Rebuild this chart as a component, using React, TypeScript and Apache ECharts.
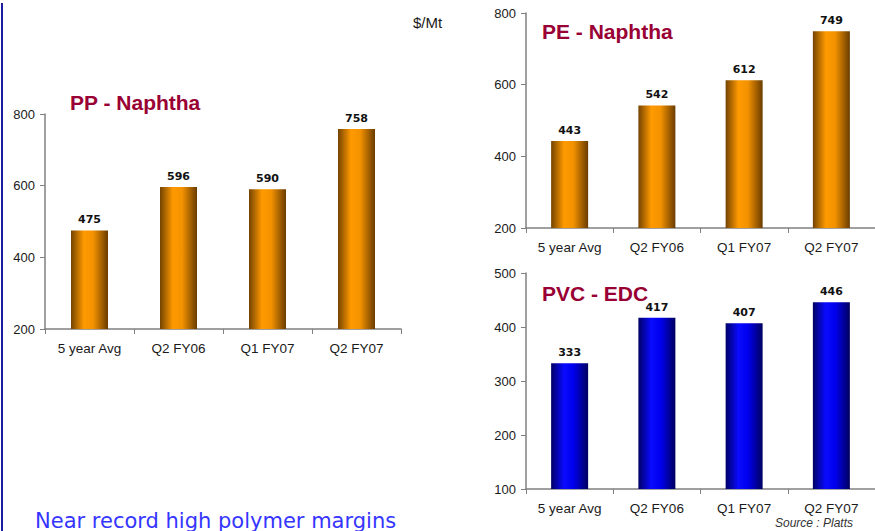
import React, { useEffect, useRef } from "react";
import * as echarts from "echarts";

// Periods shown on every panel
const categories = ["5 year Avg", "Q2 FY06", "Q1 FY07", "Q2 FY07"];

// Margins in $/Mt
const ppNaphtha = [475, 596, 590, 758];
const peNaphtha = [443, 542, 612, 749];
const pvcEdc = [333, 417, 407, 446];

// Value-axis ranges
const ppAxis = { min: 200, max: 800, interval: 200 };
const peAxis = { min: 200, max: 800, interval: 200 };
const pvcAxis = { min: 100, max: 500, interval: 100 };

const panelTitles = ["PP - Naphtha", "PE - Naphtha", "PVC - EDC"];
const unitLabel = "$/Mt";
const sourceNote = "Source : Platts";
const headline = "Near record high polymer margins";

const orangeFill = new echarts.graphic.LinearGradient(0, 0, 1, 0, [
  { offset: 0, color: "#744300" },
  { offset: 0.35, color: "#ff9a00" },
  { offset: 0.6, color: "#f39200" },
  { offset: 1, color: "#6a3c00" },
]);

const blueFill = new echarts.graphic.LinearGradient(0, 0, 1, 0, [
  { offset: 0, color: "#000066" },
  { offset: 0.35, color: "#0a0aff" },
  { offset: 0.6, color: "#0000ee" },
  { offset: 1, color: "#000060" },
]);

const axisFont = { fontFamily: "Liberation Sans, Arial, sans-serif", fontSize: 13, color: "#1a1a1a" };

function xAxisFor(gridIndex: number) {
  return {
    type: "category" as const,
    gridIndex,
    data: categories,
    axisLine: { lineStyle: { color: "#808080", width: 1.5 } },
    axisTick: { show: true, length: 5, alignWithLabel: false, lineStyle: { color: "#808080" } },
    axisLabel: { ...axisFont, fontSize: 13.5, margin: 12 },
  };
}

function yAxisFor(gridIndex: number, range: { min: number; max: number; interval: number }) {
  return {
    type: "value" as const,
    gridIndex,
    min: range.min,
    max: range.max,
    interval: range.interval,
    axisLine: { show: true, lineStyle: { color: "#808080", width: 1.5 } },
    axisTick: { show: true, length: 5, lineStyle: { color: "#808080" } },
    axisLabel: { ...axisFont, margin: 10 },
    splitLine: { show: false },
  };
}

function barSeries(index: number, data: number[], fill: any) {
  return {
    type: "bar" as const,
    xAxisIndex: index,
    yAxisIndex: index,
    data,
    barWidth: 37,
    itemStyle: { color: fill },
    label: {
      show: true,
      position: "top" as const,
      distance: 5,
      fontFamily: "DejaVu Sans, Verdana, sans-serif",
      fontWeight: "bold" as const,
      fontSize: 11,
      color: "#111",
    },
  };
}

const titleStyle = {
  fontFamily: "Liberation Sans, Arial, sans-serif",
  fontWeight: "bold",
  fontSize: 21,
  fill: "#990033",
};

export default function App() {
  const ref = useRef<HTMLDivElement>(null);

  useEffect(() => {
    if (!ref.current) return;
    const chart = echarts.init(ref.current, undefined, { renderer: "svg" });
    chart.setOption({
      animation: false,
      backgroundColor: "#ffffff",
      grid: [
        { left: 45, top: 114, width: 356, height: 215 },
        { left: 526, top: 13, width: 356, height: 215 },
        { left: 526, top: 273, width: 356, height: 216 },
      ],
      xAxis: [xAxisFor(0), xAxisFor(1), xAxisFor(2)],
      yAxis: [yAxisFor(0, ppAxis), yAxisFor(1, peAxis), yAxisFor(2, pvcAxis)],
      series: [
        barSeries(0, ppNaphtha, orangeFill),
        barSeries(1, peNaphtha, orangeFill),
        barSeries(2, pvcEdc, blueFill),
      ],
      graphic: [
        { type: "rect", shape: { x: 1, y: 3, width: 2, height: 528 }, style: { fill: "#1c1ca0" } },
        { type: "text", x: 70, y: 102, style: { ...titleStyle, text: panelTitles[0], textVerticalAlign: "middle" } },
        { type: "text", x: 542, y: 31, style: { ...titleStyle, text: panelTitles[1], textVerticalAlign: "middle" } },
        { type: "text", x: 542, y: 293, style: { ...titleStyle, text: panelTitles[2], textVerticalAlign: "middle" } },
        {
          type: "text",
          x: 413,
          y: 22,
          style: { text: unitLabel, fontFamily: "Liberation Sans, Arial, sans-serif", fontSize: 15, fill: "#1a1a1a", textVerticalAlign: "middle" },
        },
        {
          type: "text",
          x: 853,
          y: 523,
          style: {
            text: sourceNote,
            fontFamily: "Liberation Sans, Arial, sans-serif",
            fontStyle: "italic",
            fontSize: 12,
            fill: "#333",
            textAlign: "right",
            textVerticalAlign: "middle",
          },
        },
        {
          type: "text",
          x: 35,
          y: 510,
          style: { text: headline, fontFamily: "DejaVu Sans, Verdana, sans-serif", fontSize: 21, fill: "#3535ff" },
        },
      ],
    });
    return () => chart.dispose();
  }, []);

  return (
    <div
      ref={ref}
      style={{ position: "fixed", left: 0, top: 0, width: 875, height: 531, overflow: "hidden" }}
    />
  );
}
